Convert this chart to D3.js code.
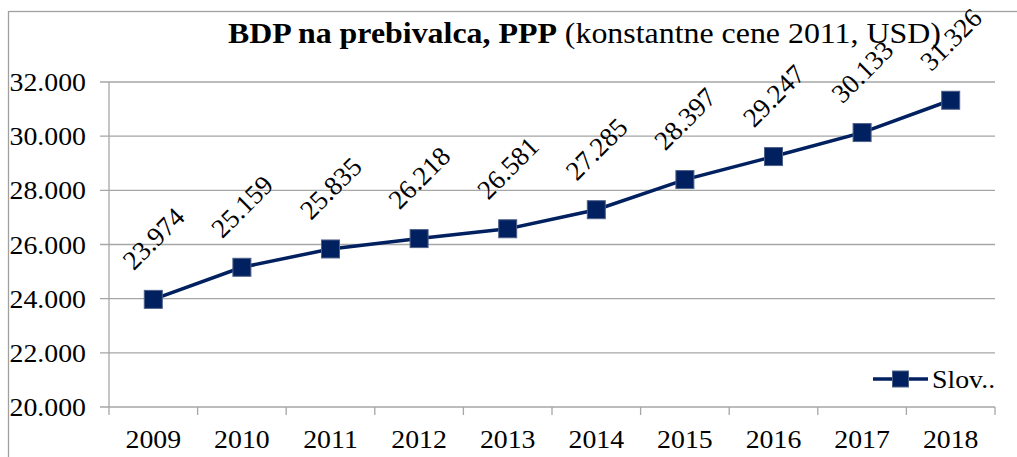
<!DOCTYPE html>
<html>
<head>
<meta charset="utf-8">
<script src="https://cdn.jsdelivr.net/npm/d3@7"></script>
<style>
  body { margin: 0; background: #fff; }
  svg text { font-family: 'Liberation Serif', 'Times New Roman', Times, 'DejaVu Serif', serif; fill: #000; }
</style>
</head>
<body>
<script>
// data
var years = ["2009", "2010", "2011", "2012", "2013", "2014", "2015", "2016", "2017", "2018"];
var gdp = [23974, 25159, 25835, 26218, 26581, 27285, 28397, 29247, 30133, 31326];
var yTicks = [20000, 22000, 24000, 26000, 28000, 30000, 32000];
var seriesName = "Slov..";

var W = 1017, H = 457;
var plot = { left: 109, right: 995, top: 82, bottom: 407 };
var navy = "#002060";
var serif = "'Liberation Serif', 'Times New Roman', Times, 'DejaVu Serif', serif";
var sx = 1.07; // source picture is a bit wider than tall

var si = d3.formatLocale({ decimal: ",", thousands: ".", grouping: [3], currency: ["", ""] });
var fmt = si.format(",d");

function at(px, py, k) {
  return "translate(" + px + "," + py + ") scale(" + (k || sx) + ",1)";
}

var svg = d3.select("body").append("svg")
    .attr("width", W)
    .attr("height", H)
    .attr("font-family", serif);

// outer chart frame (runs off the right / bottom edge)
svg.append("rect")
    .attr("x", 8.5).attr("y", 11.5)
    .attr("width", 1100).attr("height", 600)
    .attr("fill", "none")
    .attr("stroke", "#a0a0a0")
    .attr("stroke-width", 1.3);

var x = d3.scaleBand().domain(years).range([plot.left, plot.right]);
var y = d3.scaleLinear().domain([20000, 32000]).range([plot.bottom, plot.top]);

// gridlines
svg.append("g").selectAll("line")
    .data(yTicks)
  .enter().append("line")
    .attr("x1", plot.left - 9).attr("x2", plot.right)
    .attr("y1", function (d) { return y(d); })
    .attr("y2", function (d) { return y(d); })
    .attr("stroke", "#a6a6a6")
    .attr("stroke-width", 1.3);

// y axis line
svg.append("line")
    .attr("x1", plot.left).attr("x2", plot.left)
    .attr("y1", plot.top).attr("y2", plot.bottom)
    .attr("stroke", "#a6a6a6").attr("stroke-width", 1.3);

// x ticks at band edges
var edges = years.map(function (d) { return x(d); }).concat([plot.right]);
svg.append("g").selectAll("line")
    .data(edges)
  .enter().append("line")
    .attr("x1", function (d) { return d; })
    .attr("x2", function (d) { return d; })
    .attr("y1", plot.bottom).attr("y2", plot.bottom + 8)
    .attr("stroke", "#a6a6a6").attr("stroke-width", 1.3);

// y labels
svg.append("g").selectAll("text")
    .data(yTicks)
  .enter().append("text")
    .attr("transform", function (d) { return at(86, y(d)); })
    .attr("dy", "0.35em")
    .attr("text-anchor", "end")
    .attr("font-family", serif)
    .style("font-size", "26px")
    .text(function (d) { return fmt(d); });

// x labels
svg.append("g").selectAll("text")
    .data(years)
  .enter().append("text")
    .attr("transform", function (d) { return at(x(d) + x.bandwidth() / 2, 448); })
    .attr("text-anchor", "middle")
    .attr("font-family", serif)
    .style("font-size", "26px")
    .text(function (d) { return d; });

// line
var line = d3.line()
    .x(function (d, i) { return x(years[i]) + x.bandwidth() / 2; })
    .y(function (d) { return y(d); });

svg.append("path")
    .datum(gdp)
    .attr("d", line)
    .attr("fill", "none")
    .attr("stroke", navy)
    .attr("stroke-width", 3.5);

// markers
var ms = 18;
svg.append("g").selectAll("rect")
    .data(gdp)
  .enter().append("rect")
    .attr("x", function (d, i) { return x(years[i]) + x.bandwidth() / 2 - ms / 2; })
    .attr("y", function (d) { return y(d) - ms / 2; })
    .attr("width", ms).attr("height", ms)
    .attr("fill", navy)
    .attr("stroke", "#4f6088")
    .attr("stroke-width", 1);

// data labels, rotated
svg.append("g").selectAll("text")
    .data(gdp)
  .enter().append("text")
    .attr("transform", function (d, i) {
      var cx = x(years[i]) + x.bandwidth() / 2, cy = y(d) - 61;
      return "translate(" + cx + "," + cy + ") rotate(-45)";
    })
    .attr("text-anchor", "middle")
    .attr("dy", "0.35em")
    .attr("font-family", serif)
    .style("font-size", "27px")
    .text(function (d) { return fmt(d); });

// title
var title = svg.append("text")
    .attr("transform", at(228, 43, 1.1))
    .attr("font-family", serif)
    .style("font-size", "29px");
title.append("tspan").style("font-weight", "bold").text("BDP na prebivalca, PPP");
title.append("tspan").text(" (konstantne cene 2011, USD)");

// legend
var lg = svg.append("g").attr("transform", "translate(873,379)");
lg.append("line")
    .attr("x1", 0).attr("x2", 55)
    .attr("y1", 0).attr("y2", 0)
    .attr("stroke", navy).attr("stroke-width", 3.5);
lg.append("rect")
    .attr("x", 27.5 - 8).attr("y", -8)
    .attr("width", 16).attr("height", 16)
    .attr("fill", navy)
    .attr("stroke", "#4f6088").attr("stroke-width", 1);
lg.append("text")
    .attr("transform", at(59, 9))
    .attr("font-family", serif)
    .style("font-size", "26px")
    .text(seriesName);
</script>
</body>
</html>
